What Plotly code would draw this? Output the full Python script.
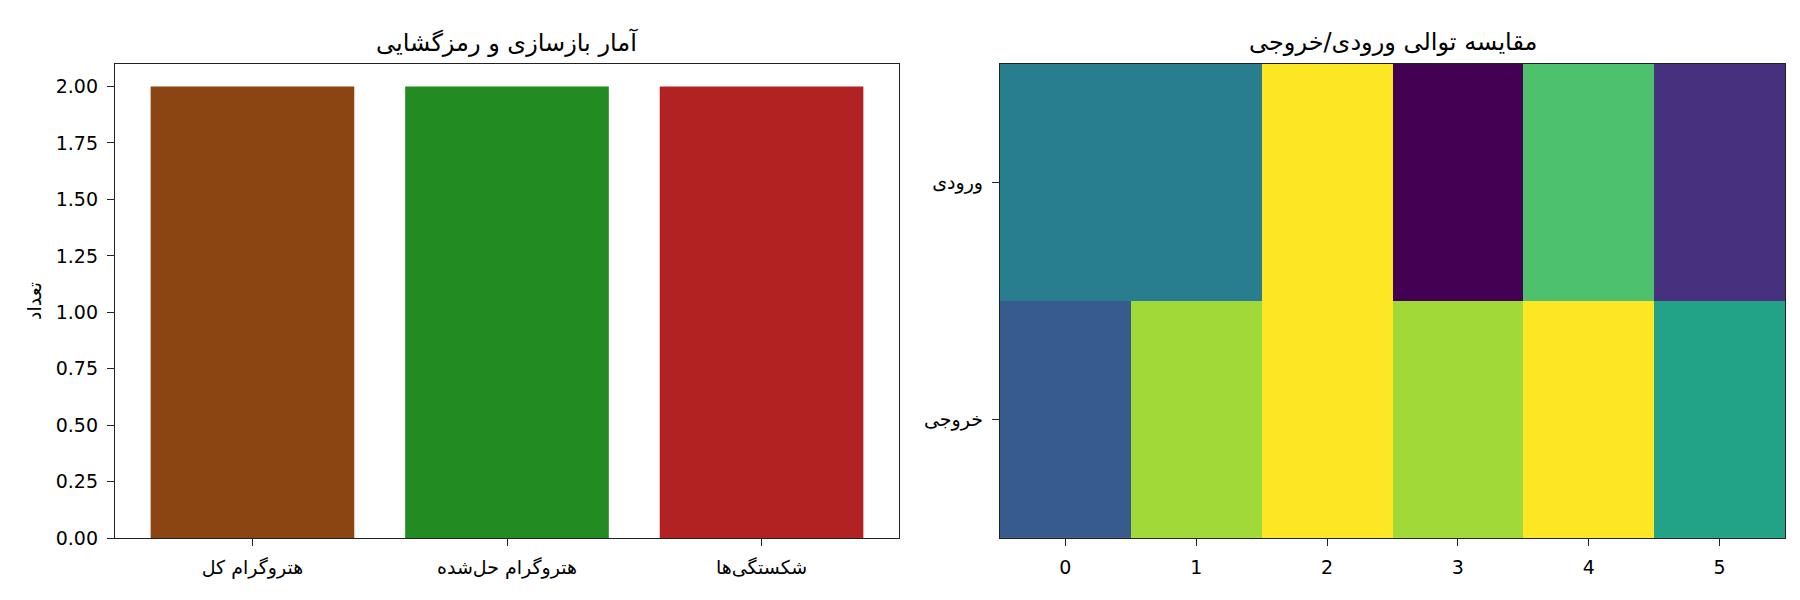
import plotly.graph_objects as go
from plotly.subplots import make_subplots

# Data
bar_categories = ["هتروگرام کل", "هتروگرام حل‌شده", "شکستگی‌ها"]
bar_values = [2, 2, 2]
bar_colors = ["#8B4513", "#228B22", "#B22222"]

seq_rows = ["ورودی", "خروجی"]
seq_cols = [0, 1, 2, 3, 4, 5]
seq_input = [3, 3, 7, 0, 5, 1]
seq_output = [2, 6, 7, 6, 7, 4]

left_title = "آمار بازسازی و رمزگشایی"
right_title = "مقایسه توالی ورودی/خروجی"
y_label = "تعداد"

FONT = "DejaVu Sans"
W, H = 1800, 600

fig = make_subplots(rows=1, cols=2)

xpos = list(range(len(bar_categories)))
fig.add_trace(go.Bar(x=xpos, y=bar_values, marker=dict(color=bar_colors, line=dict(width=0)),
                     width=0.8, showlegend=False), row=1, col=1)

fig.add_trace(go.Heatmap(z=[seq_input, seq_output], x=seq_cols, y=[0, 1],
                         colorscale="Viridis", zmin=0, zmax=7, showscale=False,
                         xgap=0, ygap=0), row=1, col=2)

ax_common = dict(showline=True, mirror=True, linecolor="#222222", linewidth=1.4,
                 ticks="outside", ticklen=7, tickwidth=1.3, tickcolor="#222222",
                 ticklabelstandoff=5,
                 showgrid=False, zeroline=False,
                 tickfont=dict(family=FONT, size=19, color="black"))

x1d = [107 / W, 891 / W]
x2d = [992 / W, 1777 / W]
yd = [1 - 540 / H, 1 - 57 / H]

fig.update_xaxes(domain=x1d, range=[-0.54, 2.54], tickvals=xpos, ticktext=bar_categories,
                 **ax_common, row=1, col=1)
fig.update_yaxes(domain=yd, range=[0, 2.1], tickvals=[0, 0.25, 0.5, 0.75, 1, 1.25, 1.5, 1.75, 2],
                 tickformat=".2f", **ax_common, row=1, col=1)
fig.update_xaxes(domain=x2d, range=[-0.5, 5.5], tickvals=seq_cols, **ax_common, row=1, col=2)
fig.update_yaxes(domain=yd, range=[1.5, -0.5], tickvals=[0, 1], ticktext=seq_rows,
                 **ax_common, row=1, col=2)

for xd, t in [(x1d, left_title), (x2d, right_title)]:
    fig.add_annotation(text=t, x=(xd[0] + xd[1]) / 2, y=1 - 35 / H, xref="paper", yref="paper",
                       showarrow=False, xanchor="center", yanchor="middle",
                       font=dict(family=FONT, size=24, color="black"))

fig.add_annotation(text=y_label, x=26 / W, y=(yd[0] + yd[1]) / 2, xref="paper", yref="paper",
                   showarrow=False, textangle=-90, xanchor="center", yanchor="middle",
                   font=dict(family=FONT, size=19, color="black"))

fig.update_layout(width=W, height=H, margin=dict(l=0, r=0, t=0, b=0),
                  paper_bgcolor="white", plot_bgcolor="white",
                  font=dict(family=FONT, color="black"))

fig.write_html("out.html")
